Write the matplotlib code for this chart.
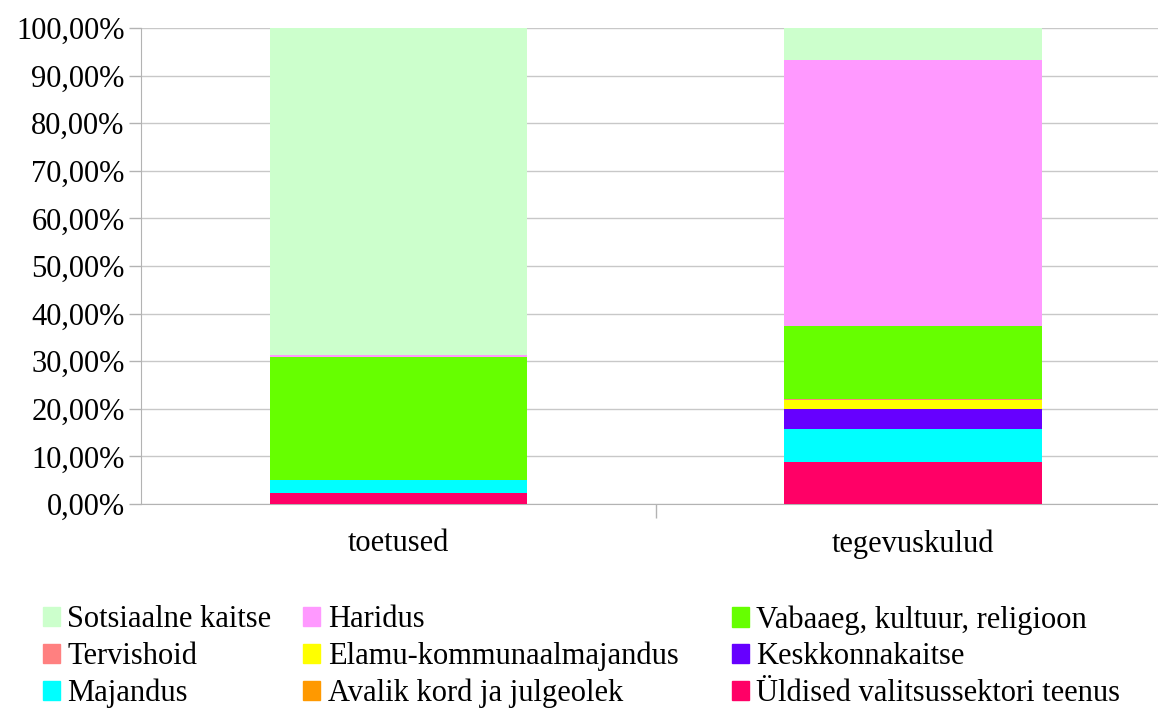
#!/usr/bin/env python3

import matplotlib
matplotlib.use("Agg")
import matplotlib.pyplot as plt
import matplotlib.patches as mpatches
from matplotlib.ticker import FuncFormatter


CATEGORIES = ["toetused", "tegevuskulud"]

# stacked bottom -> top
SERIES = [
    "Üldised valitsussektori teenus",
    "Avalik kord ja julgeolek",
    "Majandus",
    "Keskkonnakaitse",
    "Elamu-kommunaalmajandus",
    "Tervishoid",
    "Vabaaeg, kultuur, religioon",
    "Haridus",
    "Sotsiaalne kaitse",
]
COLORS = [
    "#FF0066", "#FF9900", "#00FFFF", "#6600FF", "#FFFF00",
    "#FF8080", "#66FF00", "#FF99FF", "#CCFFCC",
]
TOETUSED = [2.3, 0.0, 2.7, 0.0, 0.0, 0.0, 25.9, 0.4, 68.7]
TEGEVUSKULUD = [8.9, 0.0, 6.9, 4.2, 1.9, 0.2, 15.3, 55.9, 6.7]

# legend columns, top to bottom
LEGEND_COLS = [
    ["Sotsiaalne kaitse", "Tervishoid", "Majandus"],
    ["Haridus", "Elamu-kommunaalmajandus", "Avalik kord ja julgeolek"],
    ["Vabaaeg, kultuur, religioon", "Keskkonnakaitse",
     "Üldised valitsussektori teenus"],
]
LEGEND_X = [0.037, 0.262, 0.632]

FS = 22


def main():
    plt.rcParams["font.family"] = ["Liberation Serif", "DejaVu Serif"]
    fig = plt.figure(figsize=(11.58, 7.10), dpi=100)
    ax = fig.add_axes([0.122, 0.29, 0.878, 0.6706])

    x = list(range(len(CATEGORIES)))
    bottoms = [0.0] * len(CATEGORIES)
    for name, color, a, b in zip(SERIES, COLORS, TOETUSED, TEGEVUSKULUD):
        vals = [a, b]
        ax.bar(x, vals, width=0.5, bottom=bottoms, color=color,
               linewidth=0, zorder=3)
        bottoms = [bt + v for bt, v in zip(bottoms, vals)]

    ax.set_xlim(-0.5, 1.476)
    ax.set_ylim(0, 100)
    ax.set_yticks(range(0, 101, 10))
    ax.yaxis.set_major_formatter(
        FuncFormatter(lambda v, p: f"{v:.2f}".replace(".", ",") + "%"))
    ax.grid(axis="y", color="#c8c8c8", linewidth=1, zorder=0)

    ax.set_xticks([0.5])
    ax.set_xticklabels([""])
    ax.tick_params(axis="x", length=10, color="#b3b3b3", width=1)
    for xi, cat in zip(x, CATEGORIES):
        ax.text(xi, -5.3, cat, ha="center", va="top", fontsize=FS)
    ax.tick_params(axis="y", length=9, color="#b3b3b3", width=1,
                   labelsize=FS, pad=3)

    for s in ("top", "right"):
        ax.spines[s].set_visible(False)
    for s in ("left", "bottom"):
        ax.spines[s].set_color("#b3b3b3")

    cmap = dict(zip(SERIES, COLORS))
    for col, lx in zip(LEGEND_COLS, LEGEND_X):
        handles = [mpatches.Patch(color=cmap[n], label=n) for n in col]
        fig.legend(handles=handles, ncol=1, loc="center left",
                   bbox_to_anchor=(lx, 0.075), frameon=False, fontsize=FS,
                   handlelength=0.55, handleheight=0.6, handletextpad=0.25,
                   labelspacing=0.25, borderpad=0, borderaxespad=0)

    fig.savefig("out.png", dpi=100)


if __name__ == "__main__":
    main()
